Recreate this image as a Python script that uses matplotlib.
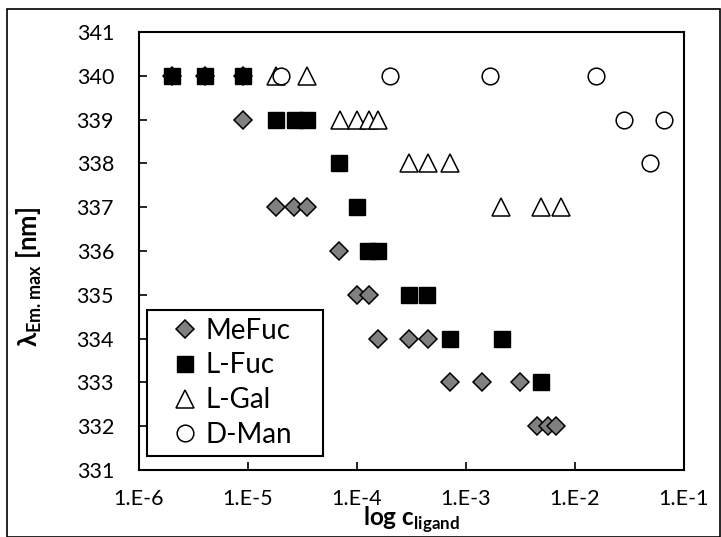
import matplotlib
matplotlib.use('Agg')
from matplotlib import pyplot as plt
from matplotlib.patches import Rectangle

plt.rcParams['font.family'] = ['Lato', 'DejaVu Sans']
plt.rcParams['mathtext.fontset'] = 'custom'
plt.rcParams['mathtext.rm'] = 'Lato'
plt.rcParams['mathtext.bf'] = 'Lato:bold'

# data
mefuc_x = [2e-6, 4e-6, 9e-6, 9e-6, 1.8e-5, 2.65e-5, 3.5e-5, 6.9e-5, 1e-4, 1.3e-4,
           1.55e-4, 3e-4, 4.5e-4, 7.2e-4, 1.4e-3, 3.1e-3, 4.5e-3, 5.6e-3, 6.7e-3]
mefuc_y = [340, 340, 340, 339, 337, 337, 337, 336, 335, 335,
           334, 334, 334, 333, 333, 333, 332, 332, 332]
lfuc_x = [2e-6, 4e-6, 9e-6, 1.8e-5, 2.7e-5, 3.5e-5, 6.8e-5, 1e-4, 1.27e-4, 1.55e-4,
          3e-4, 4.4e-4, 7.2e-4, 2.15e-3, 4.9e-3]
lfuc_y = [340, 340, 340, 339, 339, 339, 338, 337, 336, 336,
          335, 335, 334, 334, 333]
lgal_x = [1.8e-5, 3.5e-5, 7e-5, 1e-4, 1.3e-4, 1.55e-4, 3e-4, 4.5e-4, 7.1e-4,
          2.1e-3, 4.9e-3, 7.4e-3]
lgal_y = [340, 340, 339, 339, 339, 339, 338, 338, 338, 337, 337, 337]
dman_x = [2e-5, 2e-4, 1.65e-3, 1.55e-2, 2.8e-2, 6.5e-2, 4.9e-2]
dman_y = [340, 340, 340, 340, 339, 339, 338]

x_ticks = [1e-6, 1e-5, 1e-4, 1e-3, 1e-2, 1e-1]
x_labels = ['1.E-6', '1.E-5', '1.E-4', '1.E-3', '1.E-2', '1.E-1']
y_ticks = list(range(331, 342))

fig = plt.figure(figsize=(7.21, 5.37), dpi=100)
ax = fig.add_axes([139/721, 1-470/537, 545/721, 438/537])

ax.plot(mefuc_x, mefuc_y, 'D', ms=9.2, mfc='#808080', mec='black', mew=1.1, label='MeFuc')
ax.plot(lfuc_x, lfuc_y, 's', ms=12.2, mfc='black', mec='black', mew=1, label='L-Fuc')
ax.plot(lgal_x, lgal_y, '^', ms=12.5, mfc='white', mec='black', mew=1.1, label='L-Gal')
ax.plot(dman_x, dman_y, 'o', ms=12, mfc='white', mec='black', mew=1.1, label='D-Man')

ax.set_xscale('log')
ax.set_xlim(1e-6, 1e-1)
ax.set_ylim(331, 341)
ax.set_xticks(x_ticks)
ax.set_xticklabels(x_labels)
ax.minorticks_off()
ax.set_yticks(y_ticks)
ax.tick_params(direction='in', length=5.5, width=1.2, labelsize=15.5)
ax.tick_params(axis='y', pad=18)
ax.tick_params(axis='x', pad=14)
for s in ax.spines.values():
    s.set_linewidth(1.5)

ax.set_xlabel(r'log c$_{\mathbf{ligand}}$', fontsize=17.5, fontweight='bold')
ax.xaxis.set_label_coords(0.5, -0.08)
ax.set_ylabel(r'λ$_{\mathbf{Em.max}}$ [nm]', fontsize=18.5, fontweight='bold')
ax.yaxis.set_label_coords(-0.174, 0.44)

# legend without its own frame; the box is drawn separately
leg = ax.legend(loc='center left', bbox_to_anchor=(0.066, 0.199), fontsize=20, frameon=False,
                handletextpad=0.4, handlelength=0.7, borderpad=0, labelspacing=0.32,
                borderaxespad=0)
ax.add_patch(Rectangle((8/545, 14/438), 176/545, 146/438, transform=ax.transAxes,
                       fill=False, edgecolor='black', linewidth=1.5, zorder=5))

fig.patches.append(Rectangle((7/721, 0.0), 713/721, 1-9/537, transform=fig.transFigure,
                             fill=False, edgecolor='black', linewidth=1.2))

fig.savefig('out.png', dpi=100)
